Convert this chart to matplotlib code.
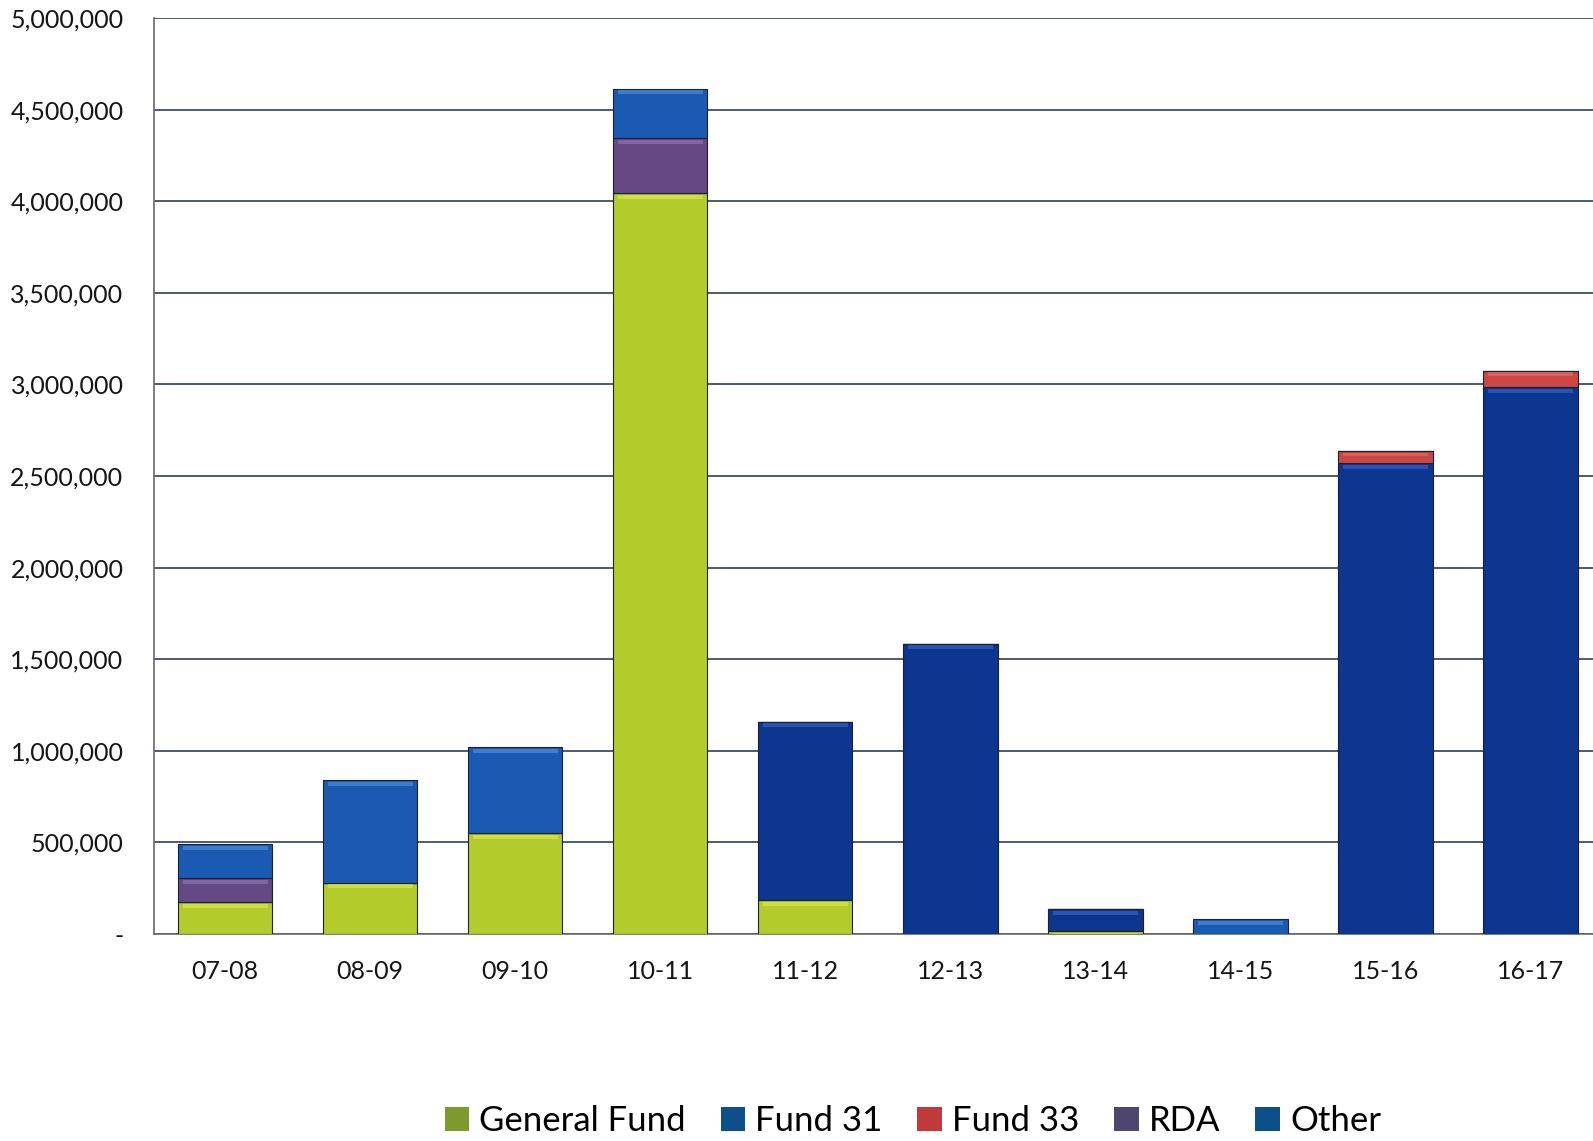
import numpy as np
import matplotlib
matplotlib.use("Agg")
import matplotlib.pyplot as plt
from matplotlib.patches import Patch
from matplotlib.ticker import FuncFormatter, MultipleLocator

# fiscal years and funding by source
years = ["07-08", "08-09", "09-10", "10-11", "11-12",
         "12-13", "13-14", "14-15", "15-16", "16-17"]
general_fund = [175000, 280000, 550000, 4045000, 185000, 0, 15000, 0, 0, 0]
fund_31      = [0, 0, 0, 0, 975000, 1585000, 120000, 0, 2570000, 2985000]
fund_33      = [0, 0, 0, 0, 0, 0, 0, 0, 65000, 90000]
rda          = [130000, 0, 0, 300000, 0, 0, 0, 0, 0, 0]
other        = [185000, 560000, 470000, 270000, 0, 0, 0, 80000, 0, 0]

series = [
    ("General Fund", general_fund, "#b3cc2c", "#7d9a2c"),
    ("Fund 31",      fund_31,      "#0d3690", "#0d4f8b"),
    ("Fund 33",      fund_33,      "#cc4744", "#c0393b"),
    ("RDA",          rda,          "#654985", "#4f4670"),
    ("Other",        other,        "#1a5ab2", "#0d4f8b"),
]
highlight = {"General Fund": "#e2ee55", "Fund 31": "#3f6fd0",
             "Fund 33": "#e87570", "RDA": "#9a7dbb", "Other": "#5d9ae6"}

FONT = ["Lato", "DejaVu Sans"]
plt.rcParams["font.family"] = FONT

fig = plt.figure(figsize=(15.93, 11.41), dpi=100)
ax = fig.add_axes([0.0967, 0.1814, 0.9033, 0.8028])

x = np.arange(len(years))
width = 0.65
bottom = np.zeros(len(years))
for name, vals, color, _ in series:
    vals = np.array(vals, dtype=float)
    ax.bar(x, vals, width, bottom=bottom, color=color,
           edgecolor="#1c2030", linewidth=0.8, zorder=3)
    # glossy strip along the top of each segment
    strip = np.minimum(vals * 0.25, 22000)
    ax.bar(x, strip, width * 0.9, bottom=bottom + vals - strip - 9000,
           color=highlight[name], linewidth=0, alpha=0.55, zorder=4)
    bottom += vals

ax.set_xlim(-0.49, 9.43)
ax.set_ylim(0, 5000000)
ax.yaxis.set_major_locator(MultipleLocator(500000))
ax.yaxis.set_major_formatter(
    FuncFormatter(lambda v, p: "-" if v == 0 else f"{v:,.0f}"))
ax.set_xticks(x)
ax.set_xticklabels(years)

ax.grid(axis="y", color="#3e4e60", linewidth=1.3, zorder=0)
ax.set_axisbelow(True)
for side in ("top", "right"):
    ax.spines[side].set_visible(False)
ax.spines["left"].set_color("#6a6a6a")
ax.spines["left"].set_linewidth(1.2)
ax.spines["bottom"].set_color("#6a6a6a")
ax.spines["bottom"].set_linewidth(1.2)

ax.tick_params(axis="y", length=0, pad=22, labelsize=18, labelcolor="#151515")
ax.tick_params(axis="x", length=0, pad=19, labelsize=18, labelcolor="#151515")

handles = [Patch(facecolor=lc, edgecolor="none", label=name)
           for name, _, _, lc in series]
fig.legend(handles=handles, loc="center", bbox_to_anchor=(0.573, 0.0175),
           ncol=5, frameon=False, fontsize=25, handlelength=0.7,
           handleheight=0.7, handletextpad=0.3, columnspacing=1.0)

fig.savefig("out.png", dpi=100, facecolor="white")
